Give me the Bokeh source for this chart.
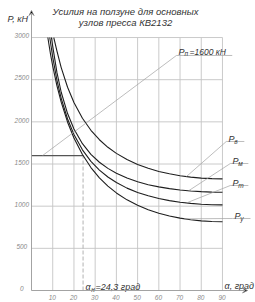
from bokeh.plotting import figure
from bokeh.models import Range1d, Arrow, VeeHead
from bokeh.embed import file_html
from bokeh.resources import INLINE
from bokeh.core.properties import value

# ---------------- data ----------------
x_ticks = [10, 20, 30, 40, 50, 60, 70, 80, 90]
y_ticks = [0, 500, 1000, 1500, 2000, 2500, 3000]
grid_alpha = [10, 20, 30, 40, 50, 60, 70, 80, 90]
grid_p = [500, 1000, 1500, 2000, 2500, 3000]

alpha_v = [10.5, 12, 14, 17, 20, 24, 28, 32, 36, 40, 45, 50, 55, 60, 65, 70, 75, 80, 85, 90]
p_v = [3000, 2839, 2643, 2410, 2229, 2042, 1900, 1788, 1698, 1626, 1553, 1495, 1449, 1412, 1384, 1361, 1345, 1333, 1327, 1324]

alpha_m = [9.4, 10, 12, 14, 17, 20, 24, 28, 32, 36, 40, 45, 50, 55, 60, 65, 70, 75, 80, 85, 90]
p_m = [3000, 2896, 2583, 2351, 2098, 1916, 1741, 1615, 1521, 1448, 1390, 1333, 1290, 1255, 1229, 1208, 1191, 1180, 1172, 1167, 1165]

alpha_t = [8.6, 10, 12, 14, 17, 20, 24, 28, 32, 36, 40, 45, 50, 55, 60, 65, 70, 75, 80, 85, 90]
p_t = [3000, 2767, 2493, 2279, 2034, 1851, 1668, 1532, 1428, 1346, 1280, 1214, 1163, 1123, 1091, 1066, 1047, 1033, 1023, 1017, 1015]

alpha_y = [7.7, 9, 10, 12, 14, 17, 20, 24, 28, 32, 36, 40, 45, 50, 55, 60, 65, 70, 75, 80, 85, 90]
p_y = [3000, 2797, 2662, 2427, 2233, 1996, 1808, 1612, 1458, 1336, 1238, 1157, 1075, 1010, 958, 916, 883, 858, 839, 826, 818, 815]

p_nom = 1600
alpha_nom = 24.3

curve_names = ["в", "м", "т", "у"]
# point on each curve where its label leader ends
leader_alpha = [73, 74, 73, 72]
leader_p = [1351, 1182, 1038, 850]

# ---------------- figure ----------------
FONT = "Liberation Sans"
GRID = "#c4c4c4"
INK = "#1e1e1e"
TXT = "#333333"

p = figure(width=255, height=302, x_range=Range1d(-14.61, 105.56), y_range=Range1d(-142.3, 3439),
           output_backend="svg", toolbar_location=None,
           min_border_left=0, min_border_right=0, min_border_top=0, min_border_bottom=0)
p.outline_line_color = None
p.axis.visible = False
p.xgrid.visible = False
p.ygrid.visible = False
p.background_fill_color = "white"
p.border_fill_color = "white"


def txt(x, y, s, size="9px", align="left", color=TXT):
    p.text(x=[x], y=[y], text=[s], text_font=value(FONT), text_font_style="italic",
           text_font_size=size, text_align=align, text_baseline="alphabetic", text_color=color)


# grid (bounded to 0..90, 0..3000)
p.segment(x0=grid_alpha, y0=[0] * len(grid_alpha), x1=grid_alpha, y1=[3000] * len(grid_alpha),
          line_color=GRID, line_width=0.9)
p.segment(x0=[0] * len(grid_p), y0=grid_p, x1=[90] * len(grid_p), y1=grid_p,
          line_color=GRID, line_width=0.9)

# axes with arrows
p.add_layout(Arrow(end=VeeHead(size=5, line_color="#888", line_width=0.8), x_start=0, y_start=0,
                   x_end=0, y_end=3320, line_color="#999", line_width=0.9))
p.add_layout(Arrow(end=VeeHead(size=5, line_color="#888", line_width=0.8), x_start=0, y_start=0,
                   x_end=101.8, y_end=0, line_color="#999", line_width=0.9))

# tick labels
p.text(x=[-4.57] * len(y_ticks), y=[t + 20 for t in y_ticks], text=[str(t) for t in y_ticks],
       text_font=value(FONT), text_font_style="italic", text_font_size="6.5px",
       text_align="center", text_baseline="middle", text_color="#8a8a8a")
p.text(x=[t - 0.2 for t in x_ticks], y=[-83] * len(x_ticks), text=[str(t) for t in x_ticks],
       text_font=value(FONT), text_font_style="italic", text_font_size="6.5px",
       text_align="center", text_baseline="middle", text_color="#8a8a8a")

# nominal force lines
p.line([0, alpha_nom], [p_nom, p_nom], line_color="#555", line_width=1.1)
p.line([alpha_nom, alpha_nom], [0, p_nom], line_color="#aaa", line_width=0.9, line_dash="4 2")

# curves
for a, v in ((alpha_v, p_v), (alpha_m, p_m), (alpha_t, p_t), (alpha_y, p_y)):
    p.line(a, v, line_color=INK, line_width=1.1)

# leader for nominal force label
p.line([5.2, 68.3, 94.6], [p_nom, 2787, 2787], line_color="#a0a0a0", line_width=0.7)

# curve labels with leaders
lab_alpha = [92.8, 94.7, 94.7, 95.7]
lab_p = [1791, 1530, 1269, 878]
shelf_p = [1767, 1506, 1245, 854]
for name, la, lp, sp, ea, ep in zip(curve_names, lab_alpha, lab_p, shelf_p, leader_alpha, leader_p):
    p.line([ea, la - 1.0, la + 7.5], [ep, sp, sp], line_color="#a0a0a0", line_width=0.7)
    txt(la, lp, "P", size="9px")
    txt(la + 2.7, lp - 24, name, size="6.5px")

# nominal force label
txt(69.3, 2834, "P", size="9px")
txt(72.1, 2810, "п", size="6.5px")
txt(74.5, 2834, "=1600 кН", size="8.5px")

# alpha nominal label
txt(25.4, 36, "α", size="9px")
txt(28.2, 12, "н", size="6.5px")
txt(30.2, 36, "=24,3 град", size="9px")

# axis titles
txt(90.95, 59, "α, град", size="9px")
txt(-11.3, 3214, "P, кН", size="9px")

# title
txt(44.3, 3308, "Усилия на ползуне для основных", size="9.5px", align="center")
txt(44.3, 3178, "узлов пресса КВ2132", size="9.5px", align="center")

open("out.html", "w").write(file_html(p, INLINE))
